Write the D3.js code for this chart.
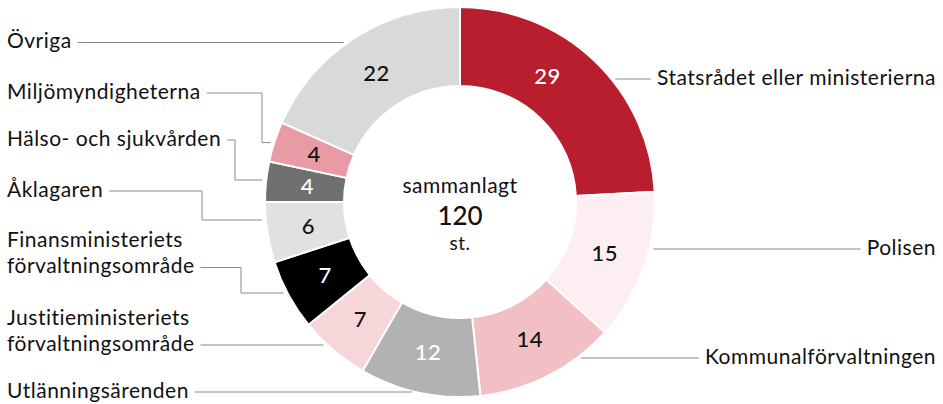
<!DOCTYPE html>
<html>
<head>
<meta charset="utf-8">
<script src="https://cdn.jsdelivr.net/npm/d3@7"></script>
<style>
  html, body { margin: 0; padding: 0; background: #fff; }
  svg text { font-family: Lato, "Open Sans", sans-serif; }
</style>
</head>
<body>
<div id="chart"></div>
<script>
// data, clockwise from 12 o'clock
var categories = ["Statsrådet eller ministerierna", "Polisen", "Kommunalförvaltningen",
  "Utlänningsärenden", "Justitieministeriets förvaltningsområde",
  "Finansministeriets förvaltningsområde", "Åklagaren", "Hälso- och sjukvården",
  "Miljömyndigheterna", "Övriga"];
var values = [29, 15, 14, 12, 7, 7, 6, 4, 4, 22];
var colors = ["#b81e2d", "#fdeef2", "#f2bfc5", "#b2b2b2", "#f7d6da",
  "#000000", "#e1e1e1", "#707070", "#e89ba5", "#d9d9d9"];
var labelLines = [["Statsrådet eller ministerierna"], ["Polisen"], ["Kommunalförvaltningen"],
  ["Utlänningsärenden"], ["Justitieministeriets", "förvaltningsområde"],
  ["Finansministeriets", "förvaltningsområde"], ["Åklagaren"], ["Hälso- och sjukvården"],
  ["Miljömyndigheterna"], ["Övriga"]];
var totalLabel = ["sammanlagt", "120", "st."];

// layout of the callouts (line y, elbow y / x), not data
var side   = ["r", "r", "r", "l", "l", "l", "l", "l", "l", "l"];
var lineY  = [79, 249, 358, 392, 345, 267.5, 191, 140, 93, 42.5];
var elbowY = [null, null, null, null, null, 293, 220, 180, 142.5, null];
var elbowX = [null, null, null, null, null, 241, 202, 235, 262, null];

var width = 943, height = 404;
var cx = 460, cy = 202, R = 195, r0 = 116;

var svg = d3.select("#chart").append("svg")
  .attr("width", width).attr("height", height);

var pie = d3.pie().sort(null).value(d => d);
var arcs = pie(values);
var arc = d3.arc().innerRadius(r0).outerRadius(R);

var g = svg.append("g").attr("transform", "translate(" + cx + "," + cy + ")");

g.selectAll(".slice")
  .data(arcs)
  .enter()
  .append("path")
  .attr("class", "slice")
  .attr("d", arc)
  .attr("fill", (d, i) => colors[i])
  .attr("stroke", "#fff")
  .attr("stroke-width", 2);

// value labels
var white = [0, 3, 5, 7];
g.selectAll(".val")
  .data(arcs)
  .enter()
  .append("text")
  .attr("class", "val")
  .attr("transform", function(d, i) {
    var a = (d.startAngle + d.endAngle) / 2;
    if (i === 0) a = a * 0.8; // leader line sits on the middle of the big slice
    var rr = (R + r0) / 2 - 2;
    return "translate(" + (rr * Math.sin(a)) + "," + (-rr * Math.cos(a)) + ")";
  })
  .attr("text-anchor", "middle")
  .attr("dy", "0.36em")
  .style("font-size", "22px")
  .style("font-weight", 500)
  .style("letter-spacing", "0.5px")
  .style("fill", (d, i) => white.includes(i) ? "#fff" : "#111")
  .text(d => d.data);

// centre
g.append("text").attr("text-anchor", "middle").attr("y", -9)
  .style("font-size", "21px").style("letter-spacing", "0.5px").style("fill", "#111").text(totalLabel[0]);
g.append("text").attr("text-anchor", "middle").attr("y", 23)
  .style("font-size", "26px").style("font-weight", 500).style("fill", "#111").text(totalLabel[1]);
g.append("text").attr("text-anchor", "middle").attr("y", 48)
  .style("font-size", "19px").style("letter-spacing", "0.5px").style("fill", "#111").text(totalLabel[2]);

// callouts
function ringX(y, s) {
  var dy = y - cy;
  var dx = Math.sqrt(Math.max(0, R * R - dy * dy));
  return s === "l" ? cx - dx - 4 : cx + dx + 4;
}

var lab = svg.append("g");
categories.forEach(function(c, i) {
  var lines = labelLines[i];
  var s = side[i];
  var t = lab.append("text")
    .attr("x", s === "l" ? 7 : 936)
    .attr("text-anchor", s === "l" ? "start" : "end")
    .style("font-size", "21px")
    .style("letter-spacing", "0.5px")
    .style("fill", "#111");
  lines.forEach(function(l, k) {
    t.append("tspan")
      .attr("x", s === "l" ? 7 : 936)
      .attr("y", lineY[i] + 5.5 - (lines.length - 1 - k) * 26)
      .text(l);
  });
  // width of the last line, where the leader attaches
  var w = t.selectAll("tspan").nodes().slice(-1)[0].getComputedTextLength();
  var pts;
  if (s === "l") {
    var x0 = 7 + w + 6;
    if (elbowY[i] != null) {
      pts = [[x0, lineY[i]], [elbowX[i], lineY[i]], [elbowX[i], elbowY[i]], [ringX(elbowY[i], "l"), elbowY[i]]];
    } else {
      pts = [[x0, lineY[i]], [ringX(lineY[i], "l"), lineY[i]]];
    }
  } else {
    pts = [[ringX(lineY[i], "r"), lineY[i]], [936 - w - 6, lineY[i]]];
  }
  lab.append("path")
    .attr("d", d3.line()(pts))
    .attr("fill", "none")
    .attr("stroke", "#8a8a8a")
    .attr("stroke-width", 1);
});
</script>
</body>
</html>
